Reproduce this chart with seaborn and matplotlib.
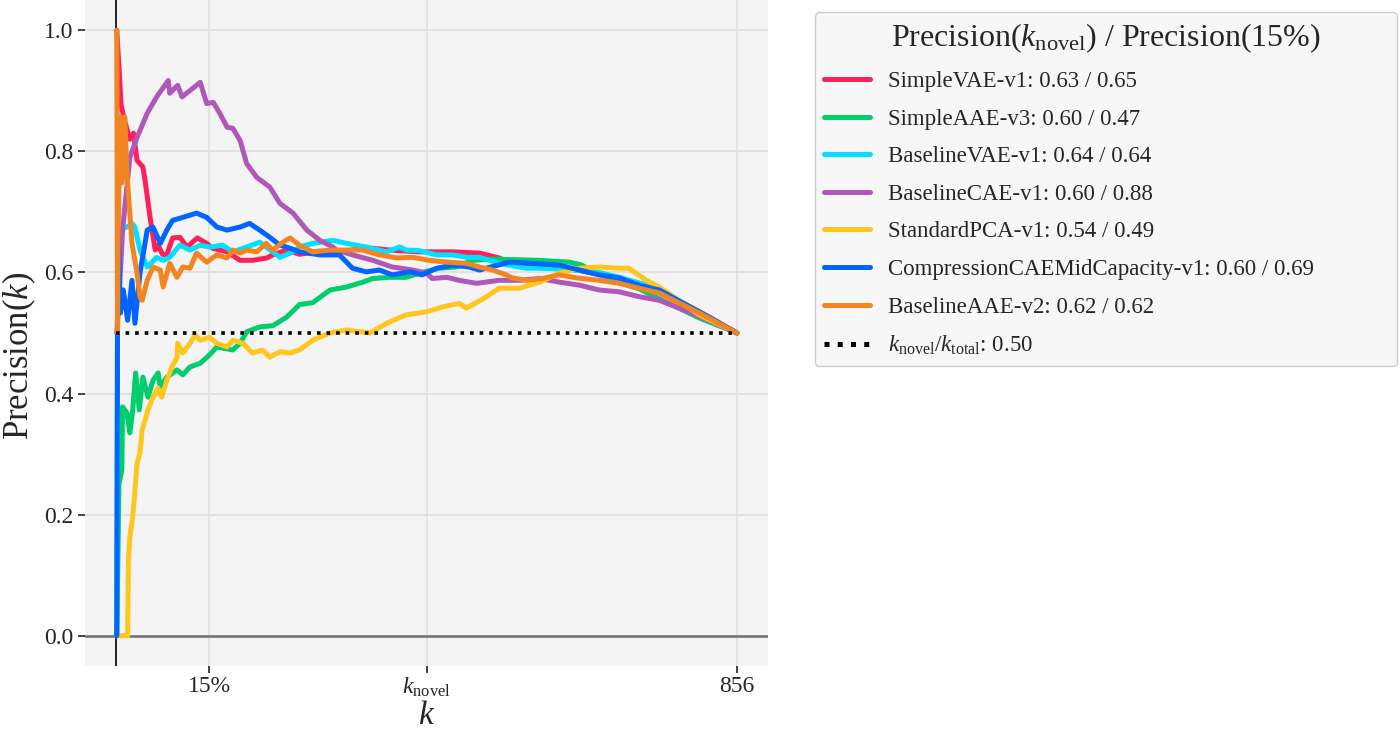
import pandas as pd
import matplotlib
matplotlib.use("Agg")
import matplotlib.pyplot as plt
import seaborn as sns

#-- precision@k curves --
k_total = 856
k_novel = 428
k_15 = 0.15 * k_total

models = ['SimpleVAE-v1', 'SimpleAAE-v3', 'BaselineVAE-v1', 'BaselineCAE-v1',
          'StandardPCA-v1', 'CompressionCAEMidCapacity-v1', 'BaselineAAE-v2']
summary = {'SimpleVAE-v1': '0.63 / 0.65', 'SimpleAAE-v3': '0.60 / 0.47',
           'BaselineVAE-v1': '0.64 / 0.64', 'BaselineCAE-v1': '0.60 / 0.88',
           'StandardPCA-v1': '0.54 / 0.49', 'CompressionCAEMidCapacity-v1': '0.60 / 0.69',
           'BaselineAAE-v2': '0.62 / 0.62'}
colors = ['#ff1f5b', '#00cd6c', '#00e1ff', '#af58ba', '#ffc61e', '#0064ff', '#f28522']

k_svae = [1, 4, 7, 12, 19, 24, 29, 37, 40, 47, 54, 58, 64, 70, 78, 88, 98, 112, 125, 133, 153, 171,
          188, 208, 216, 235, 253, 280, 300, 330, 354, 377, 418, 464, 501, 528, 542, 584, 640, 694,
          735, 780, 820, 856]
p_svae = [1.0, 0.94, 0.876, 0.85, 0.82, 0.83, 0.785, 0.774, 0.752, 0.69, 0.637, 0.645, 0.63, 0.629,
          0.657, 0.658, 0.642, 0.657, 0.648, 0.64, 0.634, 0.62, 0.62, 0.624, 0.629, 0.637, 0.63,
          0.635, 0.632, 0.638, 0.64, 0.637, 0.634, 0.634, 0.632, 0.624, 0.617, 0.612, 0.603, 0.59,
          0.577, 0.55, 0.525, 0.5]

k_saae = [1, 4, 8, 9, 15, 19, 23, 27, 32, 37, 44, 51, 58, 61, 70, 84, 92, 102, 116, 129, 139, 147,
          161, 171, 180, 198, 216, 235, 253, 271, 295, 318, 340, 354, 377, 400, 422, 446, 469, 491,
          520, 584, 625, 640, 684, 721, 753, 804, 856]
p_saae = [0.0, 0.25, 0.274, 0.378, 0.368, 0.335, 0.373, 0.434, 0.373, 0.427, 0.394, 0.422, 0.434,
          0.411, 0.427, 0.439, 0.431, 0.444, 0.45, 0.464, 0.477, 0.475, 0.472, 0.483, 0.502, 0.51,
          0.512, 0.526, 0.547, 0.55, 0.571, 0.576, 0.584, 0.59, 0.592, 0.592, 0.6, 0.607, 0.609,
          0.62, 0.622, 0.62, 0.617, 0.613, 0.587, 0.573, 0.554, 0.525, 0.5]

k_bvae = [1, 2, 3, 6, 23, 26, 33, 43, 56, 65, 74, 88, 102, 116, 129, 147, 161, 180, 198, 216, 226,
          244, 253, 271, 299, 318, 345, 373, 391, 400, 418, 442, 464, 483, 501, 515, 528, 566, 584,
          625, 666, 694, 735, 804, 856]
p_bvae = [0.0, 0.5, 0.667, 0.67, 0.68, 0.675, 0.637, 0.609, 0.625, 0.62, 0.625, 0.645, 0.637,
          0.645, 0.642, 0.645, 0.634, 0.642, 0.65, 0.634, 0.625, 0.634, 0.642, 0.648, 0.653, 0.648,
          0.642, 0.634, 0.642, 0.637, 0.636, 0.629, 0.629, 0.625, 0.625, 0.62, 0.615, 0.607, 0.607,
          0.605, 0.6, 0.592, 0.578, 0.535, 0.5]

k_bcae = [1, 6, 9, 19, 29, 43, 56, 72, 74, 85, 91, 116, 125, 134, 143, 153, 161, 171, 180, 194,
          212, 226, 244, 263, 281, 299, 304, 326, 354, 381, 409, 428, 436, 456, 473, 497, 528, 556,
          584, 611, 639, 666, 694, 721, 749, 804, 856]
p_bcae = [0.5, 0.6, 0.67, 0.79, 0.823, 0.863, 0.89, 0.917, 0.896, 0.909, 0.89, 0.914, 0.879, 0.881,
          0.863, 0.84, 0.838, 0.818, 0.78, 0.757, 0.741, 0.714, 0.698, 0.67, 0.653, 0.642, 0.637,
          0.629, 0.62, 0.609, 0.604, 0.599, 0.59, 0.592, 0.587, 0.582, 0.587, 0.587, 0.59, 0.584,
          0.579, 0.571, 0.568, 0.56, 0.554, 0.528, 0.5]

k_pca = [1, 16, 17, 19, 23, 26, 29, 33, 36, 40, 44, 51, 58, 63, 70, 77, 84, 85, 92, 102, 109, 116,
         129, 139, 153, 161, 175, 188, 202, 212, 226, 240, 253, 271, 295, 318, 350, 373, 400, 428,
         450, 473, 483, 511, 528, 556, 584, 611, 639, 666, 694, 707, 731, 749, 804, 856]
p_pca = [0.0, 0.0, 0.12, 0.163, 0.196, 0.241, 0.285, 0.302, 0.34, 0.356, 0.373, 0.394, 0.409, 0.394,
         0.422, 0.444, 0.459, 0.483, 0.467, 0.483, 0.497, 0.488, 0.493, 0.483, 0.477, 0.488, 0.483,
         0.467, 0.472, 0.46, 0.469, 0.467, 0.472, 0.488, 0.5, 0.505, 0.5, 0.516, 0.53, 0.535, 0.543,
         0.549, 0.541, 0.56, 0.574, 0.574, 0.584, 0.599, 0.607, 0.609, 0.607, 0.607, 0.587, 0.576,
         0.53, 0.5]

k_ccae = [1, 2, 3, 6, 10, 16, 22, 26, 33, 43, 51, 61, 70, 78, 92, 111, 125, 139, 153, 171, 184,
          198, 212, 226, 240, 253, 281, 308, 326, 345, 363, 381, 405, 422, 442, 464, 487, 501, 542,
          574, 611, 639, 666, 694, 721, 749, 804, 856]
p_ccae = [0.0, 0.5, 0.67, 0.533, 0.571, 0.521, 0.587, 0.516, 0.599, 0.67, 0.675, 0.648, 0.67, 0.686,
          0.691, 0.698, 0.691, 0.675, 0.67, 0.675, 0.681, 0.67, 0.658, 0.645, 0.64, 0.634, 0.629,
          0.629, 0.607, 0.601, 0.604, 0.596, 0.601, 0.596, 0.607, 0.612, 0.609, 0.604, 0.617,
          0.615, 0.612, 0.604, 0.596, 0.591, 0.579, 0.571, 0.535, 0.5]

k_baae = [1, 2, 3, 5, 6, 8, 12, 15, 19, 22, 29, 33, 36, 43, 51, 61, 65, 74, 84, 92, 102, 111, 125,
          139, 153, 161, 171, 180, 194, 207, 216, 230, 240, 253, 271, 295, 318, 340, 363, 387, 409,
          432, 456, 483, 501, 519, 538, 546, 566, 588, 611, 635, 666, 694, 721, 749, 804, 856]
p_baae = [1.0, 0.5, 0.67, 0.8, 0.857, 0.748, 0.857, 0.764, 0.698, 0.648, 0.599, 0.559, 0.554,
          0.587, 0.609, 0.604, 0.576, 0.615, 0.592, 0.609, 0.607, 0.632, 0.617, 0.629, 0.624, 0.637,
          0.632, 0.637, 0.634, 0.648, 0.637, 0.65, 0.657, 0.645, 0.634, 0.637, 0.637, 0.637, 0.629,
          0.624, 0.625, 0.62, 0.617, 0.615, 0.609, 0.604, 0.596, 0.591, 0.587, 0.59, 0.596, 0.591,
          0.587, 0.582, 0.574, 0.566, 0.533, 0.5]

ks = [k_svae, k_saae, k_bvae, k_bcae, k_pca, k_ccae, k_baae]
ps = [p_svae, p_saae, p_bvae, p_bcae, p_pca, p_ccae, p_baae]

frames = []
for name, k, p in zip(models, ks, ps):
    frames.append(pd.DataFrame({'k': k, 'precision': p,
                                'model': name + ': ' + summary[name]}))
df = pd.concat(frames, ignore_index=True)
hue_order = [m + ': ' + summary[m] for m in models]

sns.set_style('white', {'axes.facecolor': '#f4f4f4'})
serif = 'Liberation Serif'
plt.rcParams.update({'font.family': [serif, 'DejaVu Serif'],
                     'mathtext.fontset': 'custom',
                     'mathtext.rm': serif,
                     'mathtext.it': serif + ':italic',
                     'mathtext.bf': serif + ':bold'})

fig = plt.figure(figsize=(14, 7.34), dpi=100)
ax = fig.add_axes([85 / 1400, 68 / 734, 683 / 1400, 666 / 734])

sns.lineplot(data=df, x='k', y='precision', hue='model', hue_order=hue_order,
             palette=colors, linewidth=3.6, estimator=None, sort=False, ax=ax)
ax.plot([0, k_total], [0.5, 0.5], color='black', linestyle=':', linewidth=2.6,
        label=r'$k_{\mathrm{novel}}/k_{\mathrm{total}}$: 0.50')

ax.axvline(0, color='black', linewidth=1.2, zorder=1)
ax.axhline(0, color='#707070', linewidth=1.8, zorder=1)

ax.set_xlim(-0.05 * k_total, 1.05 * k_total)
ax.set_ylim(-0.05, 1.05)
ax.set_xticks([k_15, k_novel, k_total])
ax.set_xticklabels(['15%', r'$k_{\mathrm{novel}}$', '856'])
ax.set_yticks([0.0, 0.2, 0.4, 0.6, 0.8, 1.0])
ax.set_yticklabels(['0.0', '0.2', '0.4', '0.6', '0.8', '1.0'])
ax.tick_params(axis='both', which='both', direction='out', length=5, width=1.2,
               color='#222222', labelsize=17, left=True, bottom=True)
ax.tick_params(axis='x', pad=2)
ax.grid(True, color='#dedede', linewidth=1.2)
ax.set_axisbelow(True)
for s in ax.spines.values():
    s.set_visible(False)

ax.set_xlabel(r'$k$', fontsize=24)
ax.xaxis.set_label_coords(0.5, -0.052)
ax.set_ylabel(r'Precision($k$)', fontsize=25)
ax.yaxis.set_label_coords(-0.069, 0.465)

handles, labels = ax.get_legend_handles_labels()
leg = ax.legend(handles, labels, loc='upper left', mode='expand',
                bbox_to_anchor=(815 / 1400, 1 - 365 / 734, 582 / 1400, 353 / 734),
                bbox_transform=fig.transFigure,
                borderaxespad=0, fontsize=16.5, title_fontsize=23,
                title=r'Precision($k_{\mathrm{novel}}$) / Precision(15%)',
                frameon=True, fancybox=True, facecolor='#f7f7f7', edgecolor='#cccccc',
                framealpha=1, handlelength=2.0, labelspacing=0.72)
for line in leg.get_lines():
    line.set_linewidth(3.6)

plt.savefig('out.png', dpi=100)
